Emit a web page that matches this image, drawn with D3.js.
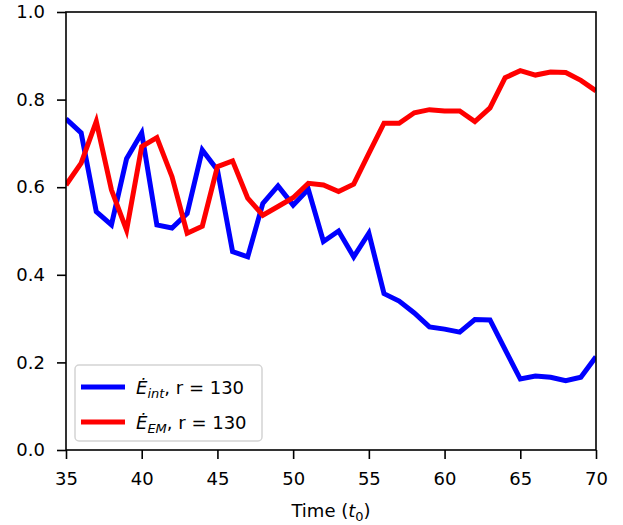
<!DOCTYPE html>
<html>
<head>
<meta charset="utf-8">
<script src="https://cdn.jsdelivr.net/npm/d3@7"></script>
<style>
  body { margin: 0; background: #fff; }
  svg { display: block; font-family: "DejaVu Sans", sans-serif; }
</style>
</head>
<body>
<svg id="chart" width="623" height="525"></svg>
<script>
const times = d3.range(35, 71);
const eInt = [0.756, 0.724, 0.544, 0.514, 0.665, 0.724, 0.514, 0.507, 0.540, 0.685, 0.639, 0.453,
              0.441, 0.563, 0.603, 0.559, 0.595, 0.476, 0.500, 0.441, 0.495, 0.357, 0.340, 0.313,
              0.281, 0.276, 0.269, 0.298, 0.297, 0.229, 0.162, 0.169, 0.166, 0.158, 0.166, 0.213];
const eEM  = [0.605, 0.655, 0.750, 0.594, 0.502, 0.693, 0.713, 0.624, 0.495, 0.511, 0.647, 0.660,
              0.575, 0.536, 0.556, 0.576, 0.609, 0.605, 0.590, 0.607, 0.677, 0.746, 0.746, 0.770,
              0.777, 0.774, 0.774, 0.750, 0.781, 0.850, 0.866, 0.856, 0.863, 0.862, 0.844, 0.820];
const xTicks = [35, 40, 45, 50, 55, 60, 65, 70];
const yTicks = [0.0, 0.2, 0.4, 0.6, 0.8, 1.0];
const seriesNames = ["int", "EM"];
const seriesColors = ["#0000ff", "#ff0000"];

const svg = d3.select("#chart");
const L = 66, R = 596, T = 12, B = 450;
const x = d3.scaleLinear().domain([35, 70]).range([L, R]);
const y = d3.scaleLinear().domain([0, 1]).range([B, T]);

const fs = 18;

// lines
svg.append("clipPath").attr("id", "clip")
  .append("rect").attr("x", L).attr("y", T).attr("width", R - L).attr("height", B - T);
const line = d3.line().x((d, i) => x(times[i])).y(d => y(d));
const g = svg.append("g").attr("clip-path", "url(#clip)");
[eInt, eEM].forEach((s, k) => {
  g.append("path").datum(s).attr("d", line)
    .attr("fill", "none").attr("stroke", seriesColors[k])
    .attr("stroke-width", 5).attr("stroke-linejoin", "miter").attr("stroke-linecap", "butt");
});

// axes
const xAxis = d3.axisBottom(x).tickValues(xTicks).tickSize(9).tickPadding(13).tickFormat(d3.format("d"));
const yAxis = d3.axisLeft(y).tickValues(yTicks).tickSize(9).tickPadding(12).tickFormat(d3.format(".1f"));
const gx = svg.append("g").attr("transform", `translate(0,${B})`).call(xAxis);
const gy = svg.append("g").attr("transform", `translate(${L},0)`).call(yAxis);
[gx, gy].forEach(a => {
  a.select(".domain").remove();
  a.selectAll(".tick line").attr("stroke", "#000").attr("stroke-width", 1.6);
  a.selectAll(".tick text").attr("fill", "#000").style("font-size", fs + "px")
    .style("font-family", "DejaVu Sans");
});

// spines
svg.append("rect").attr("x", L).attr("y", T).attr("width", R - L).attr("height", B - T)
  .attr("fill", "none").attr("stroke", "#000").attr("stroke-width", 1.6);

// x label
const xl = svg.append("text").attr("x", (L + R) / 2).attr("y", 517)
  .attr("text-anchor", "middle").style("font-size", fs + "px").attr("fill", "#000");
xl.append("tspan").text("Time (");
xl.append("tspan").attr("font-style", "italic").text("t");
xl.append("tspan").attr("dy", 4).style("font-size", "13px").text("0");
xl.append("tspan").attr("dy", -4).text(")");

// legend
const lg = svg.append("g");
lg.append("rect").attr("x", 75).attr("y", 365).attr("width", 187).attr("height", 76)
  .attr("rx", 4).attr("fill", "#fff").attr("fill-opacity", 0.8)
  .attr("stroke", "#d4d4d4").attr("stroke-width", 1.5);
seriesNames.forEach((n, k) => {
  const yy = 387 + k * 35;
  lg.append("line").attr("x1", 81).attr("x2", 125).attr("y1", yy).attr("y2", yy)
    .attr("stroke", seriesColors[k]).attr("stroke-width", 5);
  const t = lg.append("text").attr("x", 136).attr("y", yy + 7)
    .style("font-size", fs + "px").attr("fill", "#000");
  t.append("tspan").attr("font-style", "italic").text("\u0116");
  t.append("tspan").attr("font-style", "italic").attr("dy", 4).style("font-size", "13px").text(n);
  t.append("tspan").attr("dy", -4).text(", r = 130");
});
</script>
</body>
</html>
